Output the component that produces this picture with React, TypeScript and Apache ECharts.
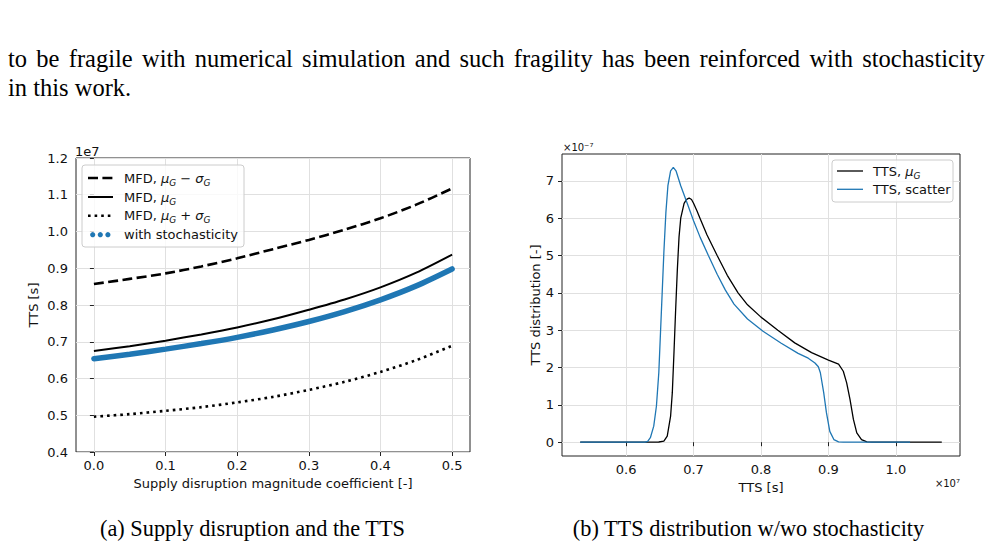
import React, { useEffect, useRef } from 'react';
import * as echarts from 'echarts';

// ---- Left chart (a): TTS vs supply disruption magnitude (values in 1e7 s)
const disruptionX = [0, 0.05, 0.1, 0.15, 0.2, 0.25, 0.3, 0.35, 0.4, 0.45, 0.5];
const ttsMinusSigma = [0.857, 0.871, 0.886, 0.905, 0.927, 0.952, 0.977, 1.005, 1.036, 1.073, 1.117];
const ttsMu = [0.675, 0.688, 0.703, 0.72, 0.739, 0.761, 0.787, 0.815, 0.848, 0.888, 0.937];
const ttsPlusSigma = [0.496, 0.503, 0.512, 0.522, 0.535, 0.55, 0.569, 0.591, 0.618, 0.65, 0.689];
const ttsStochastic = [0.654, 0.666, 0.68, 0.695, 0.712, 0.732, 0.755, 0.782, 0.814, 0.852, 0.898];
const xTicksA = [0, 0.1, 0.2, 0.3, 0.4, 0.5];
const yTicksA = [0.4, 0.5, 0.6, 0.7, 0.8, 0.9, 1.0, 1.1, 1.2];

// ---- Right chart (b): TTS distribution (x in 1e7 s, y in 1e-7)
const ttsBlackX = [0.532, 0.6, 0.645, 0.6485, 0.656, 0.661, 0.666, 0.6685, 0.671, 0.6735, 0.676, 0.6785, 0.681, 0.686, 0.6885, 0.691, 0.6935, 0.697, 0.7, 0.705, 0.71, 0.72, 0.735, 0.75, 0.766, 0.78, 0.8, 0.825, 0.85, 0.875, 0.9, 0.915, 0.922, 0.927, 0.932, 0.937, 0.942, 0.949, 0.957, 0.965, 1.0, 1.068];
const densityBlack = [0, 0, 0, 0.005, 0.03, 0.16, 0.7, 1.32, 2.4, 3.56, 4.63, 5.5, 6.0, 6.4, 6.47, 6.52, 6.54, 6.5, 6.4, 6.2, 5.98, 5.55, 5.0, 4.47, 4.0, 3.68, 3.35, 3.0, 2.66, 2.4, 2.2, 2.09, 1.9, 1.59, 1.14, 0.61, 0.25, 0.07, 0.01, 0, 0, 0];
const ttsBlueX = [0.532, 0.6, 0.628, 0.632, 0.636, 0.641, 0.645, 0.6485, 0.651, 0.6535, 0.656, 0.659, 0.662, 0.666, 0.67, 0.674, 0.681, 0.691, 0.7, 0.71, 0.722, 0.735, 0.747, 0.76, 0.78, 0.803, 0.83, 0.855, 0.87, 0.88, 0.885, 0.888, 0.893, 0.897, 0.902, 0.908, 0.915, 0.922, 0.95, 1.021];
const densityBlue = [0, 0, 0, 0.02, 0.12, 0.43, 0.97, 1.86, 2.93, 4.0, 5.08, 6.15, 6.87, 7.27, 7.36, 7.27, 6.87, 6.38, 5.93, 5.48, 5.0, 4.5, 4.08, 3.7, 3.3, 2.97, 2.65, 2.38, 2.25, 2.12, 2.02, 1.86, 1.32, 0.79, 0.29, 0.07, 0.01, 0, 0, 0];
const xTicksB = [0.6, 0.7, 0.8, 0.9, 1.0];
const yTicksB = [0, 1, 2, 3, 4, 5, 6, 7];

// ---- Page texts
const bodyLine1 = ['to', 'be', 'fragile', 'with', 'numerical', 'simulation', 'and', 'such', 'fragility', 'has', 'been', 'reinforced', 'with', 'stochasticity'];
const bodyLine2 = 'in this work.';
const captionA = '(a) Supply disruption and the TTS';
const captionB = '(b) TTS distribution w/wo stochasticity';

const SANS = 'DejaVu Sans';
const SERIF = 'Liberation Serif';
const BLUE = '#1f77b4';

function zip(xs: number[], ys: number[]) {
  return xs.map((x, i) => [x, ys[i]]);
}

export default function App() {
  const ref = useRef<HTMLDivElement>(null);
  useEffect(() => {
    if (!ref.current) return;
    const chart = echarts.init(ref.current, undefined, { renderer: 'svg' });
    const tickLabel = { fontSize: 13, color: '#111', fontFamily: SANS };
    const splitLine = { show: true, lineStyle: { color: '#e0e0e0', width: 1 } };
    const axisTick = (vals: number[]) => ({ show: true, customValues: vals, length: 4, lineStyle: { color: '#222', width: 1 } });
    const nameStyle = { fontSize: 13, color: '#111', fontFamily: SANS };

    const richMath = {
      n: { fontSize: 13, fontFamily: SANS, fill: '#111', lineHeight: 18 },
      m: { fontSize: 13, fontFamily: SANS, fontStyle: 'italic', fill: '#111', lineHeight: 18 },
      s: { fontSize: 9, fontFamily: SANS, fontStyle: 'italic', fill: '#111', lineHeight: 9, verticalAlign: 'bottom' },
    };

    const line1Rich = bodyLine1.map((w) => `{w|${w}}`).join('{sp| }');

    const option: any = {
      animation: false,
      backgroundColor: '#ffffff',
      textStyle: { fontFamily: SANS },
      grid: [
        { left: 76, top: 158, width: 394, height: 294, show: true, borderColor: '#222', borderWidth: 1, backgroundColor: 'transparent' },
        { left: 562, top: 154, width: 398, height: 302, show: true, borderColor: '#222', borderWidth: 1, backgroundColor: 'transparent' },
      ],
      xAxis: [
        {
          type: 'value', gridIndex: 0, min: -0.025, max: 0.525,
          axisLine: { show: false },
          axisTick: axisTick(xTicksA),
          axisLabel: { ...tickLabel, customValues: xTicksA, margin: 7, formatter: (v: number) => v.toFixed(1) },
          splitLine,
          name: 'Supply disruption magnitude coefficient [-]', nameLocation: 'middle', nameGap: 25, nameTextStyle: nameStyle,
        },
        {
          type: 'value', gridIndex: 1, min: 0.505, max: 1.095,
          axisLine: { show: false },
          axisTick: axisTick(xTicksB),
          axisLabel: { ...tickLabel, customValues: xTicksB, margin: 7, formatter: (v: number) => v.toFixed(1) },
          splitLine,
          name: 'TTS [s]', nameLocation: 'middle', nameGap: 25, nameTextStyle: nameStyle,
        },
      ],
      yAxis: [
        {
          type: 'value', gridIndex: 0, min: 0.4, max: 1.2,
          axisLine: { show: false },
          axisTick: axisTick(yTicksA),
          axisLabel: { ...tickLabel, customValues: yTicksA, margin: 8, formatter: (v: number) => v.toFixed(1) },
          splitLine,
          name: 'TTS [s]', nameLocation: 'middle', nameGap: 36, nameTextStyle: nameStyle,
        },
        {
          type: 'value', gridIndex: 1, min: -0.37, max: 7.72,
          axisLine: { show: false },
          axisTick: axisTick(yTicksB),
          axisLabel: { ...tickLabel, customValues: yTicksB, margin: 8, formatter: (v: number) => String(Math.round(v)) },
          splitLine,
          name: 'TTS distribution [-]', nameLocation: 'middle', nameGap: 18, nameTextStyle: nameStyle,
        },
      ],
      series: [
        { type: 'line', name: 'MFD, μG − σG', xAxisIndex: 0, yAxisIndex: 0, data: zip(disruptionX, ttsMinusSigma), showSymbol: false, smooth: 0.3, lineStyle: { color: '#000', width: 2.6, type: [10, 4.4] } },
        { type: 'line', name: 'MFD, μG', xAxisIndex: 0, yAxisIndex: 0, data: zip(disruptionX, ttsMu), showSymbol: false, smooth: 0.3, lineStyle: { color: '#000', width: 2 } },
        { type: 'line', name: 'MFD, μG + σG', xAxisIndex: 0, yAxisIndex: 0, data: zip(disruptionX, ttsPlusSigma), showSymbol: false, smooth: 0.3, lineStyle: { color: '#000', width: 2.6, type: [2.6, 4] } },
        { type: 'line', name: 'with stochasticity', xAxisIndex: 0, yAxisIndex: 0, data: zip(disruptionX, ttsStochastic), showSymbol: false, smooth: 0.3, lineStyle: { color: BLUE, width: 5.5, cap: 'round' } },
        { type: 'line', name: 'TTS, μG', xAxisIndex: 1, yAxisIndex: 1, data: zip(ttsBlackX, densityBlack), showSymbol: false, lineStyle: { color: '#000', width: 1.3 } },
        { type: 'line', name: 'TTS, scatter', xAxisIndex: 1, yAxisIndex: 1, data: zip(ttsBlueX, densityBlue), showSymbol: false, lineStyle: { color: BLUE, width: 1.3 } },
      ],
      graphic: [
        // page text
        { type: 'text', x: 8, y: 58, style: { text: line1Rich, verticalAlign: 'middle', align: 'left', rich: { w: { fontFamily: SERIF, fontSize: 24.5, fill: '#000' }, sp: { fontFamily: SERIF, fontSize: 24.5, width: 9.3 } } } },
        { type: 'text', x: 8, y: 87.5, style: { text: bodyLine2, fontFamily: SERIF, fontSize: 24.5, fill: '#000', verticalAlign: 'middle', align: 'left' } },
        { type: 'text', x: 252.5, y: 528, style: { text: captionA, fontFamily: SERIF, fontSize: 22.3, fill: '#000', verticalAlign: 'middle', align: 'center' } },
        { type: 'text', x: 748.5, y: 528, style: { text: captionB, fontFamily: SERIF, fontSize: 22.3, fill: '#000', verticalAlign: 'middle', align: 'center' } },
        // offsets
        { type: 'text', x: 75, y: 151, style: { text: '1e7', fontFamily: SANS, fontSize: 13, fill: '#111', verticalAlign: 'middle', align: 'left' } },
        { type: 'text', x: 563, y: 147, style: { text: '×10⁻⁷', fontFamily: SANS, fontSize: 10, fill: '#111', verticalAlign: 'middle', align: 'left' } },
        { type: 'text', x: 960, y: 483, style: { text: '×10⁷', fontFamily: SANS, fontSize: 10, fill: '#111', verticalAlign: 'middle', align: 'right' } },
        // legend (a)
        { type: 'rect', shape: { x: 82, y: 165, width: 162, height: 82, r: 3 }, style: { fill: 'rgba(255,255,255,0.8)', stroke: '#cccccc', lineWidth: 1 }, z: 100 },
        { type: 'line', shape: { x1: 88, y1: 178, x2: 113, y2: 178 }, style: { stroke: '#000', lineWidth: 2.6, lineDash: [10, 4.4] }, z: 101 },
        { type: 'line', shape: { x1: 88, y1: 197, x2: 113, y2: 197 }, style: { stroke: '#000', lineWidth: 2 }, z: 101 },
        { type: 'line', shape: { x1: 88, y1: 215.7, x2: 113, y2: 215.7 }, style: { stroke: '#000', lineWidth: 2.6, lineDash: [2.6, 4] }, z: 101 },
        { type: 'circle', shape: { cx: 92.7, cy: 234.7, r: 2.6 }, style: { fill: BLUE }, z: 101 },
        { type: 'circle', shape: { cx: 100.3, cy: 234.7, r: 2.6 }, style: { fill: BLUE }, z: 101 },
        { type: 'circle', shape: { cx: 107.9, cy: 234.7, r: 2.6 }, style: { fill: BLUE }, z: 101 },
        { type: 'text', x: 124, y: 178, z: 101, style: { text: '{n|MFD, }{m|μ}{s|G}{n| − }{m|σ}{s|G}', rich: richMath, verticalAlign: 'middle', align: 'left' } },
        { type: 'text', x: 124, y: 197, z: 101, style: { text: '{n|MFD, }{m|μ}{s|G}', rich: richMath, verticalAlign: 'middle', align: 'left' } },
        { type: 'text', x: 124, y: 215.7, z: 101, style: { text: '{n|MFD, }{m|μ}{s|G}{n| + }{m|σ}{s|G}', rich: richMath, verticalAlign: 'middle', align: 'left' } },
        { type: 'text', x: 124, y: 234.7, z: 101, style: { text: 'with stochasticity', fontFamily: SANS, fontSize: 13, fill: '#111', verticalAlign: 'middle', align: 'left' } },
        // legend (b)
        { type: 'rect', shape: { x: 832, y: 160, width: 121, height: 42, r: 3 }, style: { fill: 'rgba(255,255,255,0.8)', stroke: '#cccccc', lineWidth: 1 }, z: 100 },
        { type: 'line', shape: { x1: 837, y1: 171, x2: 863, y2: 171 }, style: { stroke: '#000', lineWidth: 1.3 }, z: 101 },
        { type: 'line', shape: { x1: 837, y1: 189.3, x2: 863, y2: 189.3 }, style: { stroke: BLUE, lineWidth: 1.3 }, z: 101 },
        { type: 'text', x: 873, y: 171, z: 101, style: { text: '{n|TTS, }{m|μ}{s|G}', rich: richMath, verticalAlign: 'middle', align: 'left' } },
        { type: 'text', x: 873, y: 189.3, z: 101, style: { text: 'TTS, scatter', fontFamily: SANS, fontSize: 13, fill: '#111', verticalAlign: 'middle', align: 'left' } },
      ],
    };
    chart.setOption(option);
    return () => chart.dispose();
  }, []);
  return <div ref={ref} style={{ position: 'absolute', left: 0, top: 0, width: 991, height: 547 }} />;
}
